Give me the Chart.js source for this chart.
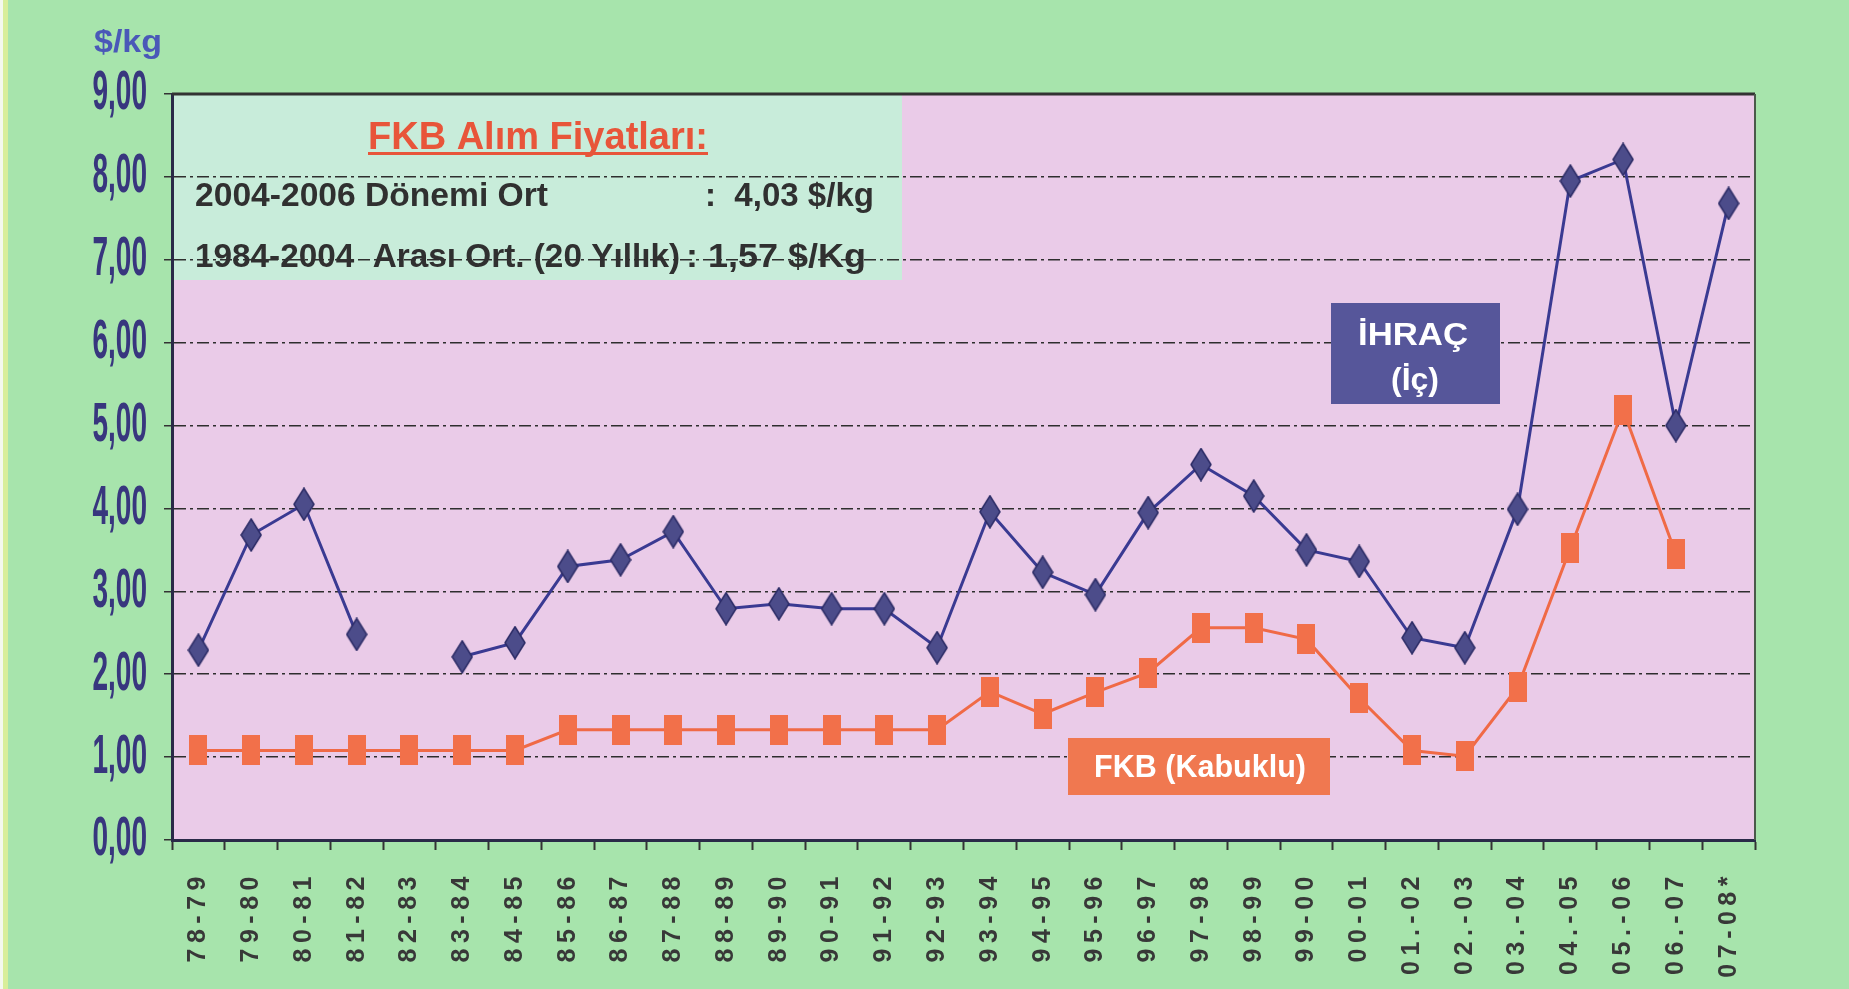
<!DOCTYPE html>
<html>
<head>
<meta charset="utf-8">
<script src="https://cdn.jsdelivr.net/npm/chart.js@4.4.1/dist/chart.umd.min.js"></script>
<style>
html,body{margin:0;padding:0;background:#a8e3ae;overflow:hidden}
#wrap{width:1849px;height:989px;position:relative}
canvas{display:block}
</style>
</head>
<body>
<div id="wrap"><canvas id="c" width="1849" height="989"></canvas></div>
<script>
// ---- data ----
const categories = ['78-79','79-80','80-81','81-82','82-83','83-84','84-85','85-86','86-87','87-88',
  '88-89','89-90','90-91','91-92','92-93','93-94','94-95','95-96','96-97','97-98',
  '98-99','99-00','00-01','01.-02','02.-03','03.-04','04.-05','05.-06','06.-07','07-08*'];
const ihracValues = [2.29,3.68,4.05,2.48,null,2.21,2.38,3.30,3.38,3.72,
  2.79,2.85,2.79,2.79,2.32,3.96,3.23,2.96,3.95,4.53,
  4.15,3.50,3.36,2.44,2.32,3.99,7.95,8.21,5.00,7.68];
const fkbValues = [1.08,1.08,1.08,1.08,1.08,1.08,1.08,1.33,1.33,1.33,
  1.33,1.33,1.33,1.33,1.33,1.79,1.52,1.78,2.02,2.56,
  2.56,2.42,1.71,1.08,1.01,1.84,3.52,5.19,3.45,null];
const yTickLabels = ['0,00','1,00','2,00','3,00','4,00','5,00','6,00','7,00','8,00','9,00'];
const seriesNames = ['İHRAÇ (İç)','FKB (Kabuklu)'];
const unitLabel = '$/kg';
const infoTitle = 'FKB Alım Fiyatları:';
const infoLines = [
  ['2004-2006 Dönemi Ort', ':  4,03 $/kg'],
  ['1984-2004  Arası Ort. (20 Yıllık)', ': 1,57 $/Kg']
];
const ihracLabelLines = ['İHRAÇ','(İç)'];
const fkbLabelText = 'FKB (Kabuklu)';

// ---- styles ----
const C = {
  outer:'#a7e4ac', plot:'#eacbe8', info:'#c8ecda',
  blue:'#3a3a92', blueMark:'#4c4c8a', blueStroke:'#2c2c66',
  orange:'#f06a46', orangeMark:'#f2704a',
  grid:'#2e2e2e', axis:'#2a2a48', ylab:'#38367e', xlab:'#383838',
  unit:'#4a58b8', infoTitle:'#e8553a', infoText:'#303030',
  ihracBox:'#56569a', fkbBox:'#f07850'
};
const FONT = "'Liberation Sans', Arial, sans-serif";

function makeDiamond(w,h,fill,stroke){
  const c=document.createElement('canvas'); c.width=w; c.height=h;
  const g=c.getContext('2d');
  g.beginPath(); g.moveTo(w/2,1); g.lineTo(w-1,h/2); g.lineTo(w/2,h-1); g.lineTo(1,h/2); g.closePath();
  g.fillStyle=fill; g.fill(); g.lineWidth=1.5; g.strokeStyle=stroke; g.stroke();
  return c;
}
function makeRect(w,h,fill){
  const c=document.createElement('canvas'); c.width=w; c.height=h;
  const g=c.getContext('2d'); g.fillStyle=fill; g.fillRect(0,0,w,h);
  return c;
}
const diamondImg = makeDiamond(22,34,C.blueMark,C.blueStroke);
const rectImg = makeRect(18,30,C.orangeMark);

// draw text scaled horizontally to span [x0, x1]
function fitText(ctx,text,x0,x1,y,underline){
  const w=ctx.measureText(text).width;
  const s=(x1-x0)/w;
  ctx.save(); ctx.textAlign='left';
  ctx.translate(x0,0); ctx.scale(s,1);
  ctx.fillText(text,0,y);
  if(underline){ ctx.fillRect(0,y+3,w,3); }
  ctx.restore();
}

const decor = {
  id:'decor',
  beforeDraw(chart){
    const ctx=chart.ctx, a=chart.chartArea;
    const xs=chart.scales.x, ys=chart.scales.y;
    if(!xs._wrapped){
      const o=xs.drawLabels.bind(xs);
      xs.drawLabels=function(area){ const c=this.ctx; c.save(); c.letterSpacing='5.5px'; o(area); c.restore(); };
      xs._wrapped=true;
    }
    if(!ys._wrapped){
      const o=ys.drawLabels.bind(ys);
      ys.drawLabels=function(area){
        const c=this.ctx; const ax=this.right-this.options.grid.tickLength-this.options.ticks.padding;
        c.save(); c.translate(ax,0); c.scale(0.5,1); c.translate(-ax,0); o(area); c.restore();
      };
      ys._wrapped=true;
    }
    ctx.save();
    ctx.fillStyle=C.outer; ctx.fillRect(0,0,chart.width,chart.height);
    ctx.fillStyle='#f4f8ee'; ctx.fillRect(0,0,3,chart.height);
    ctx.fillStyle='#d8ee9a'; ctx.fillRect(3,0,5,chart.height);
    ctx.fillStyle=C.plot; ctx.fillRect(a.left,a.top,a.right-a.left,a.bottom-a.top);
    ctx.fillStyle=C.info; ctx.fillRect(a.left,a.top,902-a.left,280-a.top);
    ctx.restore();
  },
  afterDraw(chart){
    const ctx=chart.ctx, a=chart.chartArea;
    ctx.save();
    ctx.strokeStyle='#333333'; ctx.lineWidth=3;
    ctx.beginPath(); ctx.moveTo(a.left,a.top); ctx.lineTo(a.right,a.top); ctx.stroke();
    ctx.strokeStyle='#4a5a4a'; ctx.lineWidth=2;
    ctx.beginPath(); ctx.moveTo(a.right,a.top); ctx.lineTo(a.right,a.bottom); ctx.stroke();
    ctx.textBaseline='alphabetic';
    // unit label
    ctx.fillStyle=C.unit; ctx.font='bold 32px '+FONT;
    fitText(ctx,unitLabel,94,162,52,false);
    // info title
    ctx.font='bold 39px '+FONT; ctx.fillStyle=C.infoTitle;
    fitText(ctx,infoTitle,368,708,149,true);
    // info lines
    ctx.font='bold 33px '+FONT; ctx.fillStyle=C.infoText;
    fitText(ctx,infoLines[0][0],195,548,206,false);
    fitText(ctx,infoLines[0][1],705,874,206,false);
    fitText(ctx,infoLines[1][0],195,680,267,false);
    fitText(ctx,infoLines[1][1],686,866,267,false);
    // İHRAÇ label box
    ctx.fillStyle=C.ihracBox; ctx.fillRect(1331,303,169,101);
    ctx.fillStyle='#ffffff'; ctx.font='bold 32px '+FONT; ctx.textBaseline='middle';
    fitText(ctx,ihracLabelLines[0],1358,1468,336,false);
    ctx.textAlign='center';
    ctx.fillText(ihracLabelLines[1],1415,381);
    // FKB label box
    ctx.fillStyle=C.fkbBox; ctx.fillRect(1068,738,262,57);
    ctx.fillStyle='#ffffff'; ctx.font='bold 31px '+FONT;
    fitText(ctx,fkbLabelText,1094,1306,768,false);
    ctx.restore();
  }
};

new Chart(document.getElementById('c'),{
  type:'line',
  data:{
    labels:categories,
    datasets:[
      {label:seriesNames[0], data:ihracValues, borderColor:C.blue, borderWidth:3,
       pointStyle:diamondImg, pointRadius:8, spanGaps:false, tension:0},
      {label:seriesNames[1], data:fkbValues, borderColor:C.orange, borderWidth:3,
       pointStyle:rectImg, pointRadius:8, spanGaps:false, tension:0}
    ]
  },
  options:{
    responsive:false, animation:false, devicePixelRatio:1,
    layout:{padding:{left:0,top:94,right:94,bottom:0}},
    plugins:{legend:{display:false},title:{display:false},tooltip:{enabled:false}},
    scales:{
      x:{
        type:'category', offset:true,
        grid:{display:true, offset:true, drawOnChartArea:false, drawTicks:true, tickLength:10,
              tickColor:'#333333', tickWidth:2},
        border:{display:true, color:C.axis, width:3},
        ticks:{autoSkip:false, minRotation:90, maxRotation:90, padding:21, color:C.xlab,
               font:{family:FONT, weight:'bold', size:25}},
        afterFit(s){ s.height=149; }
      },
      y:{
        min:0, max:9,
        grid:{color:C.grid, lineWidth:1.5, drawTicks:true, tickLength:8, tickColor:'#333333', tickWidth:1.5},
        border:{display:true, color:C.axis, width:3, dash:[12,4,3,4]},
        ticks:{stepSize:1, padding:17, color:C.ylab, font:{family:FONT, weight:'bold', size:56},
               callback:(v)=>yTickLabels[v]},
        afterFit(s){ s.width=172; }
      }
    }
  },
  plugins:[decor]
});
</script>
</body>
</html>
